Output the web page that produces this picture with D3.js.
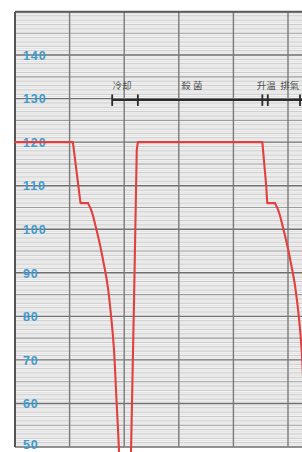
<!DOCTYPE html>
<html><head><meta charset="utf-8">
<script src="https://cdn.jsdelivr.net/npm/d3@7/dist/d3.min.js"></script>
<style>html,body{margin:0;padding:0;background:#fff;overflow:hidden}</style>
</head><body><svg id="c" width="302" height="452"></svg>
<script>
// ---- data ----
const tempTicks = [140, 130, 120, 110, 100, 90, 80, 70, 60, 50];
const timeGrid = [0, 10, 20, 30, 40, 50];
// recorded temperature trace (time in min, temperature in °C), split into runs;
// runs flagged "smooth" are decay curves, others are straight strokes of the pen
const traceTime = [
  [0, 10.6, 12.0, 13.37],
  [13.37, 14.1, 14.84, 15.57, 16.3, 17.03, 17.58, 18.13, 18.59, 19.05, 19.3],
  [19.3, 20.9, 21.25, 21.8, 22.3, 22.5, 45.3, 46.0, 46.2, 47.6],
  [47.6, 48.35, 49.1, 49.85, 50.6, 51.35, 51.95, 52.5, 52.95, 53.4]
];
const traceTemp = [
  [120, 120, 106, 106],
  [106, 103.9, 100.3, 96.4, 91.8, 86.5, 80.3, 72.3, 60.8, 48.9, 40],
  [40, 40, 48.9, 83.7, 118.2, 120, 120, 110.1, 106, 106],
  [106, 103.9, 100.3, 96.4, 91.8, 86.5, 80.3, 72.3, 60.8, 48.9]
];
const traceSmooth = [false, true, false, true];
// phase markers
const phaseTicks = [17.8, 22.5, 45.3, 46.3, 52.2];
const phaseLabels = ["冷却", "殺 菌", "升温", "排氣"];
const phaseLabelTime = [19.6, 32.4, 46.0, 50.3];
const phaseLevel = 129.7;

// ---- layout ----
const W = 302, H = 452;
const padL = 15, padT = 12, bottomY = 447;
const x = d3.scaleLinear().domain([0, 50]).range([15, 288]);
const y = d3.scaleLinear().domain([50, 150]).range([bottomY, 11.5]);
const svg = d3.select("#c");

svg.append("rect").attr("x", padL).attr("y", padT).attr("width", W - padL).attr("height", bottomY - padT)
  .attr("fill", "#f3f3f3");

const g = svg.append("g");
const halfs = d3.range(50, 150.01, 0.5);
g.selectAll("line.h").data(halfs).join("line")
  .attr("x1", padL).attr("x2", W)
  .attr("y1", d => y(d)).attr("y2", d => y(d))
  .attr("stroke", d => d % 10 === 0 ? "#6e6e6e" : d % 5 === 0 ? "#9a9a9a" : Number.isInteger(d) ? "#bdbdbd" : "#dcdcdc")
  .attr("stroke-width", d => d % 10 === 0 ? 1.4 : d % 5 === 0 ? 1.1 : 0.8);

g.selectAll("line.v").data(timeGrid.slice(1)).join("line")
  .attr("x1", d => x(d)).attr("x2", d => x(d))
  .attr("y1", padT).attr("y2", bottomY)
  .attr("stroke", "#7a7a7a").attr("stroke-width", 1.4);

svg.append("line").attr("x1", padL).attr("x2", W).attr("y1", padT).attr("y2", padT)
  .attr("stroke", "#555").attr("stroke-width", 1.6);
svg.append("line").attr("x1", padL).attr("x2", padL).attr("y1", padT).attr("y2", bottomY)
  .attr("stroke", "#555").attr("stroke-width", 2);

svg.selectAll("text.yl").data(tempTicks).join("text")
  .attr("x", 23).attr("y", d => Math.min(y(d) + 1.5, H - 6))
  .attr("dominant-baseline", "middle")
  .attr("font-family", "Liberation Sans, Arial, sans-serif")
  .attr("font-weight", "bold").attr("font-size", 12.5).attr("letter-spacing", 0.9)
  .attr("fill", "#3d9bd0")
  .text(d => d);

svg.append("line").attr("x1", x(phaseTicks[0])).attr("x2", W)
  .attr("y1", y(phaseLevel)).attr("y2", y(phaseLevel))
  .attr("stroke", "#2a2a2a").attr("stroke-width", 2);
svg.selectAll("line.pt").data(phaseTicks).join("line")
  .attr("x1", d => x(d)).attr("x2", d => x(d))
  .attr("y1", y(phaseLevel) - 5.5).attr("y2", y(phaseLevel) + 6)
  .attr("stroke", "#2a2a2a").attr("stroke-width", 1.8);
svg.selectAll("text.pl").data(phaseLabels).join("text")
  .attr("x", (d, i) => x(phaseLabelTime[i])).attr("y", 89)
  .attr("text-anchor", "middle")
  .attr("font-family", "Noto Sans CJK TC, Noto Sans CJK SC, sans-serif")
  .attr("font-size", 9.5).attr("fill", "#505050")
  .text(d => d);

const runs = traceTime.map((ts, r) => ({ smooth: traceSmooth[r], pts: ts.map((t, i) => [t, traceTemp[r][i]]) }));
svg.selectAll("path.trace").data(runs).join("path")
  .attr("d", d => d3.line().x(p => x(p[0])).y(p => y(p[1]))
    .curve(d.smooth ? d3.curveMonotoneX : d3.curveLinear)(d.pts))
  .attr("fill", "none").attr("stroke", "#e2403f").attr("stroke-width", 2.1)
  .attr("stroke-linejoin", "round").attr("stroke-linecap", "round");
</script></body></html>
